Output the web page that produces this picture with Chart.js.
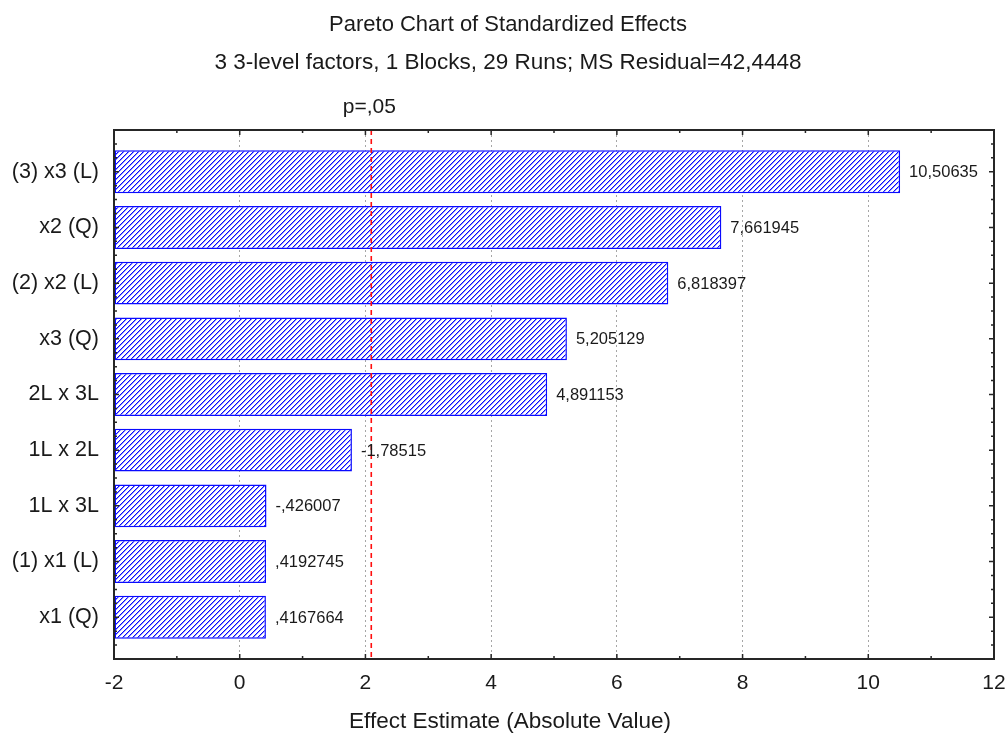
<!DOCTYPE html>
<html>
<head>
<meta charset="utf-8">
<script src="https://cdn.jsdelivr.net/npm/chart.js@4/dist/chart.umd.min.js"></script>
<style>
  html, body { margin: 0; padding: 0; background: #ffffff; }
  canvas { display: block; }
</style>
</head>
<body>
<canvas id="pareto" width="1008" height="735"></canvas>
<script>
// Effects, in Pareto order (largest standardized effect first)
const effectNames = ['(3) x3 (L)', 'x2 (Q)', '(2) x2 (L)', 'x3 (Q)', '2L x 3L', '1L x 2L', '1L x 3L', '(1) x1 (L)', 'x1 (Q)'];
const effectEstimates = [10.50635, 7.661945, 6.818397, 5.205129, 4.891153, -1.78515, -0.426007, 0.4192745, 0.4167664];
const xTickValues = [-2, 0, 2, 4, 6, 8, 10, 12];
const criticalT = 2.093024;          // t(0.975; 19 df)
const criticalLabel = 'p=,05';
const titleText = 'Pareto Chart of Standardized Effects';
const subtitleText = '3 3-level factors, 1 Blocks, 29 Runs; MS Residual=42,4448';
const xAxisTitle = 'Effect Estimate (Absolute Value)';

const FONT = '"Liberation Sans", Arial, sans-serif';
const TEXT = '#1a1a1a';
const xMin = xTickValues[0];
const xMax = xTickValues[xTickValues.length - 1];
const yMin = -0.75, yMax = effectNames.length - 0.25;

// Number formatting: 7 significant digits, comma decimal, no leading zero
function fmt(v) {
  let s = v.toPrecision(7);
  if (s.includes('.')) s = s.replace(/0+$/, '').replace(/\.$/, '');
  s = s.replace(/^(-?)0\./, '$1.');
  return s.replace('.', ',');
}

// Diagonal hatch fill for the bars
function hatchPattern() {
  const n = 5;
  const c = document.createElement('canvas');
  c.width = n; c.height = n;
  const g = c.getContext('2d');
  g.fillStyle = '#ffffff';
  g.fillRect(0, 0, n, n);
  for (let x = 0; x < n; x++) {
    for (let y = 0; y < n; y++) {
      const k = (x + y) % n;
      if (k === n - 1) { g.fillStyle = '#0a0aff'; g.fillRect(x, y, 1, 1); }
      else if (k === 0) { g.fillStyle = '#8c8cff'; g.fillRect(x, y, 1, 1); }
    }
  }
  return g.createPattern(c, 'repeat');
}

const isWhole = v => Math.abs(v - Math.round(v)) < 1e-6;

// Titles, frame, inward tick marks, critical-value line and value labels
const overlay = {
  id: 'overlay',
  afterDraw(chart) {
    const { ctx, chartArea: a, scales: { x, y } } = chart;
    const midX = chart.width / 2 + 4;
    ctx.save();

    // headings
    ctx.fillStyle = TEXT;
    ctx.textAlign = 'center';
    ctx.textBaseline = 'middle';
    ctx.font = '22px ' + FONT;
    ctx.fillText(titleText, midX, 25);
    ctx.font = '22.5px ' + FONT;
    ctx.fillText(subtitleText, midX, 63);
    ctx.fillText(xAxisTitle, midX + 2, 722);

    // critical t line
    const cx = x.getPixelForValue(criticalT);
    ctx.strokeStyle = '#ff0f0f';
    ctx.lineWidth = 1.6;
    ctx.setLineDash([5, 4]);
    ctx.beginPath();
    ctx.moveTo(cx, a.top);
    ctx.lineTo(cx, a.bottom);
    ctx.stroke();
    ctx.setLineDash([]);

    ctx.font = '21px ' + FONT;
    ctx.fillText(criticalLabel, cx - 2, 107);

    // value labels at bar ends
    ctx.font = '16.5px ' + FONT;
    ctx.textAlign = 'left';
    const bars = chart.getDatasetMeta(0).data;
    bars.forEach((el, i) => {
      ctx.fillText(fmt(effectEstimates[i]), el.x + 9, el.y + 1);
    });

    // frame
    ctx.strokeStyle = '#262626';
    ctx.lineWidth = 2;
    ctx.strokeRect(a.left, a.top, a.right - a.left, a.bottom - a.top);

    // inward ticks on horizontal edges (major at labelled values, minor between)
    ctx.lineWidth = 1.5;
    ctx.beginPath();
    for (let v = xMin; v <= xMax; v += 1) {
      const px = x.getPixelForValue(v);
      const len = xTickValues.includes(v) ? 5 : 3;
      ctx.moveTo(px, a.bottom); ctx.lineTo(px, a.bottom - len);
      ctx.moveTo(px, a.top); ctx.lineTo(px, a.top + len);
    }
    // inward ticks on vertical edges: major at each effect, minor every quarter
    for (let q = Math.ceil(yMin * 4); q <= Math.floor(yMax * 4); q++) {
      const v = q / 4;
      const py = y.getPixelForValue(v);
      if (py <= a.top + 1 || py >= a.bottom - 1) continue;
      const len = isWhole(v) ? 5 : 3;
      ctx.moveTo(a.left, py); ctx.lineTo(a.left + len, py);
      ctx.moveTo(a.right, py); ctx.lineTo(a.right - len, py);
    }
    ctx.stroke();
    ctx.restore();
  }
};

new Chart(document.getElementById('pareto'), {
  type: 'bar',
  data: {
    datasets: [{
      data: effectEstimates.map((v, i) => ({ x: Math.abs(v), y: i })),
      base: xMin,
      backgroundColor: hatchPattern(),
      borderColor: '#0a0aff',
      borderWidth: 1.5,
      borderSkipped: false,
      categoryPercentage: 1,
      barPercentage: 0.77
    }]
  },
  options: {
    indexAxis: 'y',
    responsive: false,
    animation: false,
    devicePixelRatio: 1,
    layout: { padding: { top: 130, left: 0, right: 14, bottom: 0 } },
    plugins: {
      legend: { display: false },
      tooltip: { enabled: false },
      title: { display: false },
      subtitle: { display: false }
    },
    scales: {
      x: {
        type: 'linear', position: 'bottom', min: xMin, max: xMax,
        afterBuildTicks: s => { s.ticks = xTickValues.map(v => ({ value: v })); },
        ticks: { color: TEXT, padding: 12, font: { family: FONT, size: 21, lineHeight: 1.2 } },
        grid: {
          drawTicks: false, lineWidth: 1,
          color: c => (c.tick && (c.tick.value === xMin || c.tick.value === xMax)) ? 'rgba(0,0,0,0)' : '#a6a6a6'
        },
        border: { display: false, dash: [2, 3] },
        afterFit: s => { s.height = 76; s.paddingLeft = 0; s.paddingRight = 0; }
      },
      y: {
        type: 'linear', reverse: true, min: yMin, max: yMax, offset: false,
        afterBuildTicks: s => { s.ticks = effectNames.map((_, i) => ({ value: i })); },
        ticks: {
          autoSkip: false, padding: 15, color: TEXT,
          font: { family: FONT, size: 21.5, lineHeight: 1.2 },
          callback: v => effectNames[Math.round(v)]
        },
        grid: { display: false, drawTicks: false, offset: false },
        border: { display: false },
        afterFit: s => { s.width = 114; }
      }
    }
  },
  plugins: [overlay]
});
</script>
</body>
</html>
